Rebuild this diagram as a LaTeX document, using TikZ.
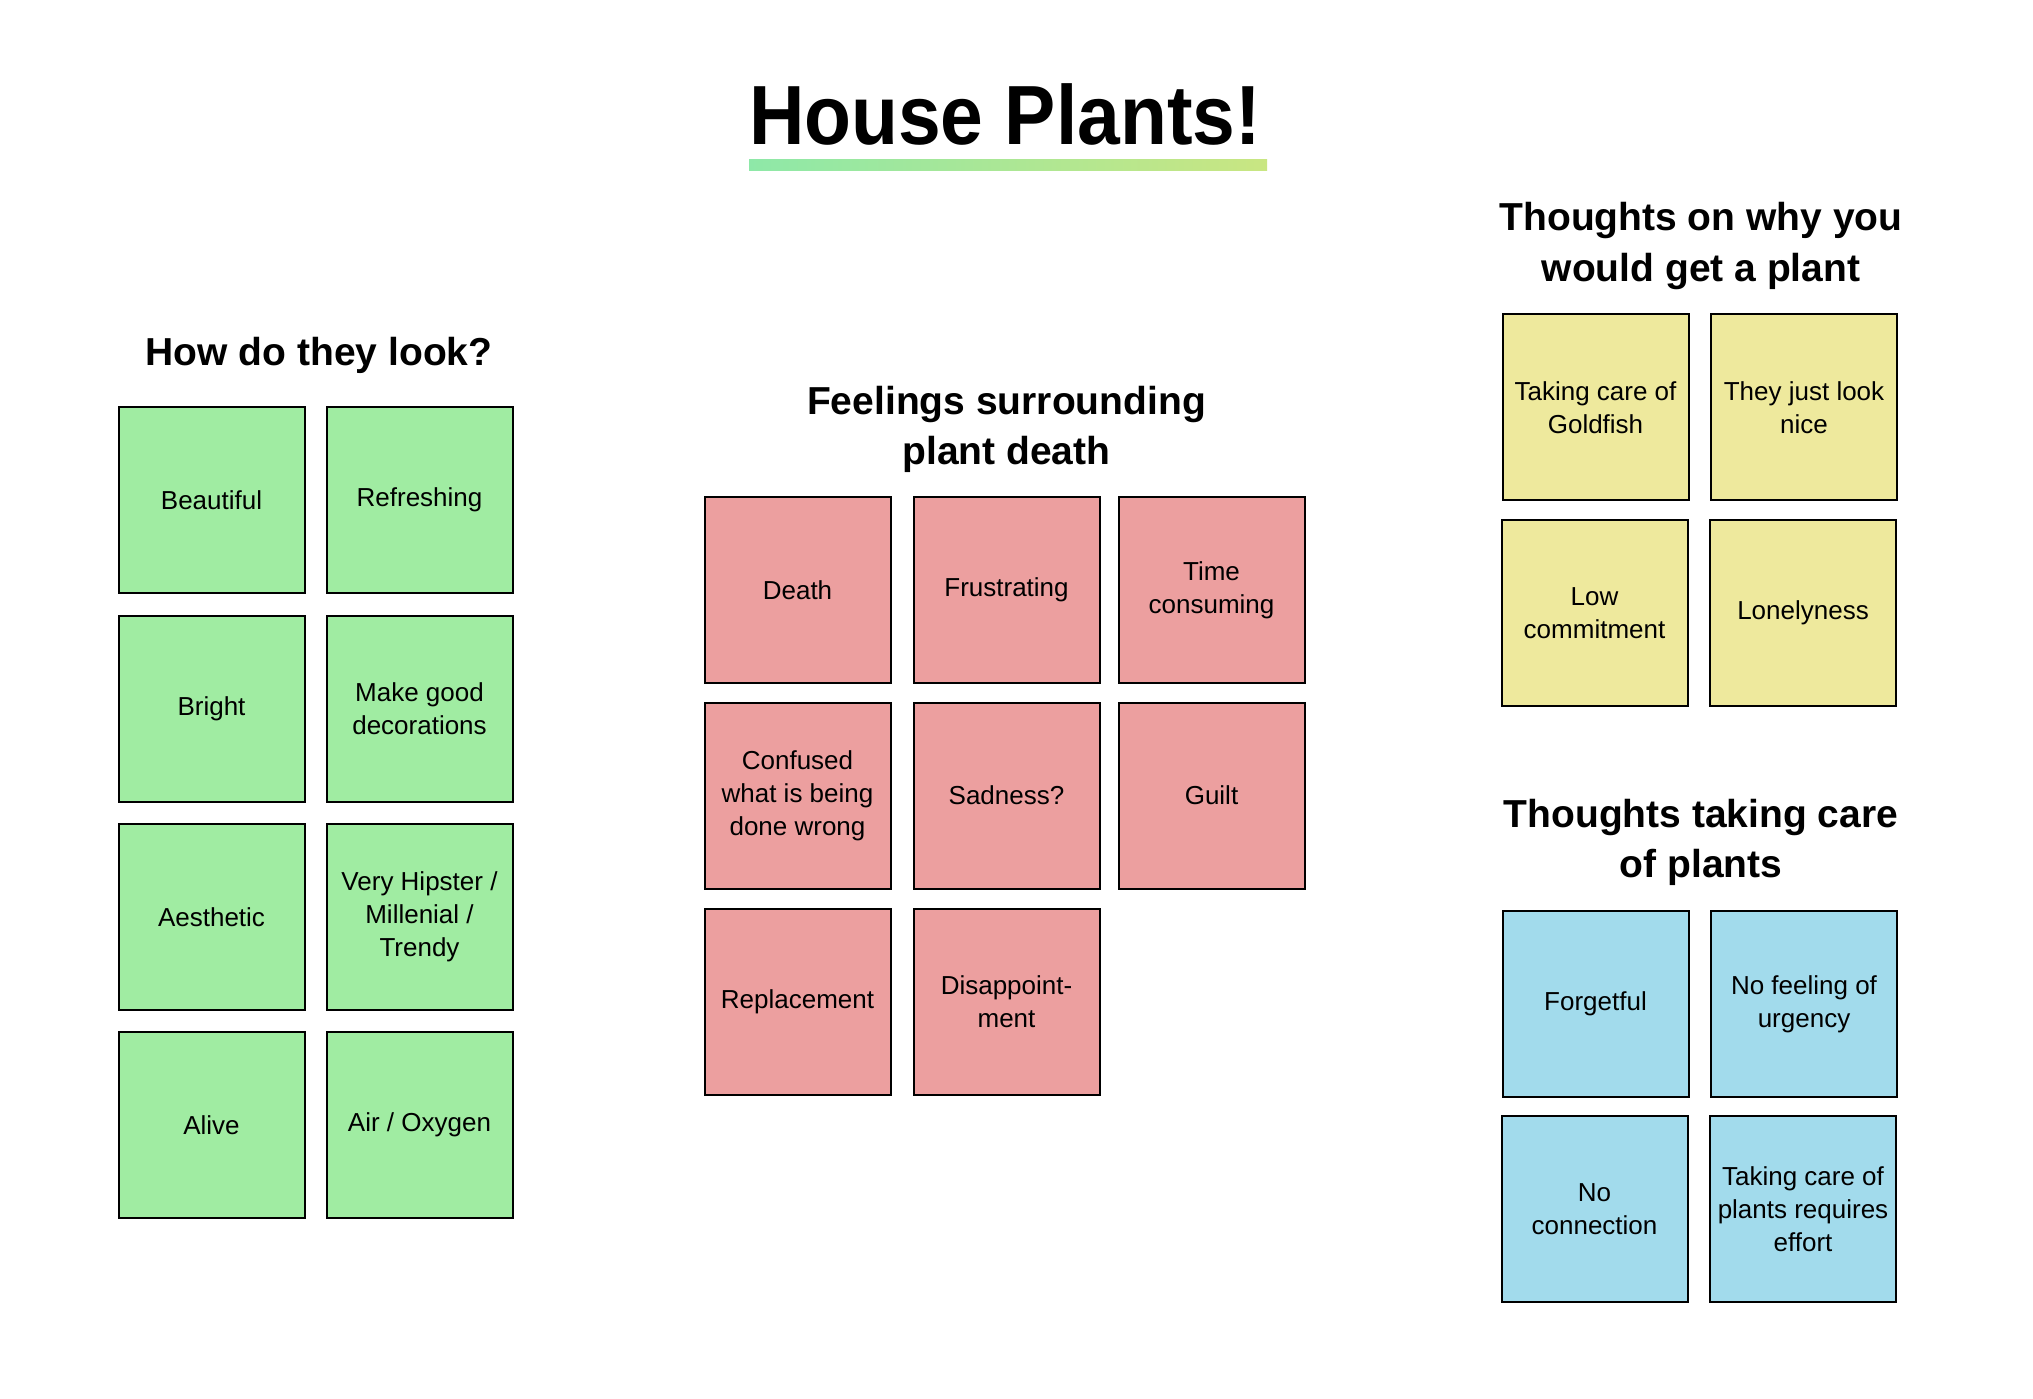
\documentclass[tikz,border=0pt]{standalone}
\usepackage{fontspec}
\usepackage{graphicx}
\setmainfont{Liberation Sans}

\definecolor{notegreen}{HTML}{A0ECA2}
\definecolor{notered}{HTML}{EC9F9F}
\definecolor{noteyellow}{HTML}{EEE99D}
\definecolor{noteblue}{HTML}{A2DBEC}
\definecolor{barleft}{HTML}{8EE8A8}
\definecolor{barright}{HTML}{C9E682}

\tikzset{
  note/.style={draw=black, line width=2pt, minimum size=186pt, inner sep=0pt,
    align=center, text=black, font=\fontsize{26}{33}\selectfont},
  greennote/.style={note, fill=notegreen},
  rednote/.style={note, fill=notered},
  yellownote/.style={note, fill=noteyellow},
  bluenote/.style={note, fill=noteblue},
  heading/.style={font=\fontsize{39}{50.5}\selectfont\bfseries, align=center,
    anchor=base, inner sep=0pt, text=black},
}

\begin{document}
\begin{tikzpicture}[x=1pt, y=-1pt]
  \useasboundingbox[fill=white] (0,0) rectangle (2033,1398);

  % title with gradient underline
  \node[anchor=base, inner sep=0pt, font=\fontsize{84}{94}\selectfont\bfseries]
    (title) at (1005,144) {\scalebox{0.914}[1]{House Plants!}};
  \shade[left color=barleft, right color=barright] (749,159.5) rectangle (1267,170);

  % how do they look?
  \node[heading] (lookhead) at (319,365) {How do they look?};
  \node[greennote] (beautiful)  at (211.5,500)   {Beautiful};
  \node[greennote] (refreshing) at (419.5,500)   {Refreshing};
  \node[greennote] (bright)     at (211.5,708.5) {Bright};
  \node[greennote] (decor)      at (419.5,708.5) {Make good\\decorations};
  \node[greennote] (aesthetic)  at (211.5,917)   {Aesthetic};
  \node[greennote] (hipster)    at (419.5,917)   {Very Hipster /\\Millenial /\\Trendy};
  \node[greennote] (alive)      at (211.5,1125)  {Alive};
  \node[greennote] (oxygen)     at (419.5,1125)  {Air / Oxygen};

  % feelings surrounding plant death
  \node[heading] (deathhead) at (1006.5,464.5) {Feelings surrounding\\plant death};
  \node[rednote] (death)       at (797.5,590)    {Death};
  \node[rednote] (frustrating) at (1006.5,590)   {Frustrating};
  \node[rednote] (timecons)    at (1211.5,590)   {Time\\consuming};
  \node[rednote] (confused)    at (797.5,795.5)  {Confused\\what is being\\done wrong};
  \node[rednote] (sadness)     at (1006.5,795.5) {Sadness?};
  \node[rednote] (guilt)       at (1211.5,795.5) {Guilt};
  \node[rednote] (replacement) at (797.5,1001.5) {Replacement};
  \node[rednote] (disappoint)  at (1006.5,1001.5){Disappoint-\\ment};

  % why you would get a plant
  \node[heading] (whyhead) at (1701,281) {Thoughts on why you\\would get a plant};
  \node[yellownote] (goldfish)   at (1595.5,407.3) {Taking care of\\Goldfish};
  \node[yellownote] (looknice)   at (1804,407.3)   {They just look\\nice};
  \node[yellownote] (lowcommit)  at (1594.5,613)   {Low\\commitment};
  \node[yellownote] (lonely)     at (1803,613)     {Lonelyness};

  % taking care of plants
  \node[heading] (carehead) at (1701,877.5) {Thoughts taking care\\of plants};
  \node[bluenote] (forgetful)  at (1595.5,1004) {Forgetful};
  \node[bluenote] (urgency)    at (1804,1004)   {No feeling of\\urgency};
  \node[bluenote] (connection) at (1594.5,1209) {No\\connection};
  \node[bluenote] (effort)     at (1803,1209)   {Taking care of\\plants requires\\effort};
\end{tikzpicture}
\end{document}
